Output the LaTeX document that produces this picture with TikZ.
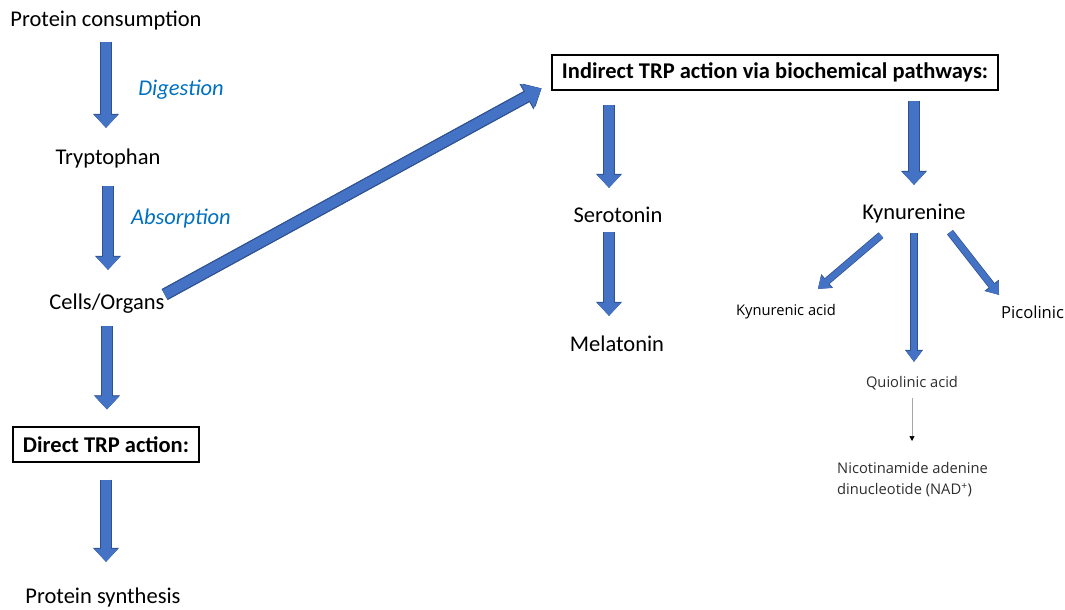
\documentclass[tikz,border=0pt]{standalone}
\usepackage{fontspec}
\setmainfont{Carlito}
\newfontfamily\chemfont{Open Sans}
\usepackage{xcolor}
\usepackage{tikz}
\usetikzlibrary{positioning, calc, arrows.meta}

\definecolor{arrowblue}{HTML}{4472C4}
\definecolor{arrowedge}{HTML}{2F528F}
\definecolor{stepblue}{HTML}{0070C0}
\definecolor{chemgray}{HTML}{2E2E2E}

\begin{document}
\begin{tikzpicture}[x=1pt,y=-1pt]
	\tikzstyle{txt}=[inner sep=0pt, anchor=base, font=\fontsize{22.5}{27}\selectfont, text height=16pt, text depth=5pt]
	\tikzstyle{note}=[txt, text=stepblue, font=\fontsize{22.5}{27}\selectfont\itshape]
	\tikzstyle{chem}=[inner sep=0pt, anchor=base, font=\chemfont\fontsize{14.7}{22}\selectfont, text height=11pt, text depth=3pt]
	\tikzstyle{stage}=[draw=black, line width=1.2pt, inner sep=0pt, minimum height=35pt, font=\fontsize{22.5}{27}\selectfont\bfseries]
	\tikzstyle{fatarrow}=[draw=arrowblue, line width=10pt, -{Triangle[length=13pt,width=24pt,line width=0.5pt]},
		preaction={draw=arrowedge, line width=12pt, -{Triangle[length=14pt,width=26pt,line width=0.5pt]}}]
	\tikzstyle{widearrow}=[fatarrow, -{Triangle[length=16pt,width=27pt,line width=0.5pt]},
		preaction={draw=arrowedge, line width=12.5pt, -{Triangle[length=17pt,width=29pt,line width=0.5pt]}}]
	\tikzstyle{branch}=[draw=arrowblue, line width=6pt, -{Triangle[length=11pt,width=16pt,line width=0.5pt]},
		preaction={draw=arrowedge, line width=7.5pt, -{Triangle[length=12pt,width=18pt,line width=0.5pt]}}]
	\tikzstyle{thinline}=[draw=gray!70, line width=0.7pt, -{Triangle[length=5pt,width=5pt,color=black]}]

	\useasboundingbox (0,0) rectangle (1065,610);
	\clip (0,0) rectangle (1065,610);

	% left column
	\node[txt](prot) at (106,27) {Protein consumption};
	\node[txt](tryp) at (108,164) {Tryptophan};
	\node[txt](cells) at (107,309) {Cells/Organs};
	\node[stage, minimum width=186pt](direct) at (106,444.5) {Direct TRP action:};
	\node[txt](synth) at (103,603) {Protein synthesis};
	\node[note](dig) at (181,95) {Digestion};
	\node[note](abs) at (181,224) {Absorption};

	% right part
	\node[stage, minimum width=446pt](indirect) at (775,72.5) {Indirect TRP action via biochemical pathways:};
	\node[txt](sero) at (618,222) {Serotonin};
	\node[txt](mela) at (617,351) {Melatonin};
	\node[txt](kyn) at (914,219) {Kynurenine};
	\node[chem](kacid) at (786,315) {Kynurenic acid};
	\node[chem, anchor=base west, font=\chemfont\fontsize{16.6}{22}\selectfont](pico) at (1001,318) {Picolinic};
	\node[chem, text=chemgray](quin) at (912,387) {Quiolinic acid};
	\node[inner sep=0pt, anchor=north west, align=left, text=chemgray,
		font=\chemfont\fontsize{14.7}{21.5}\selectfont](nad) at (837,462) {Nicotinamide adenine\\dinucleotide (NAD\textsuperscript{+})};

	\draw[fatarrow, shorten <=10pt, shorten >=20pt] (prot.south) -- (prot.south |- tryp.north);
	\draw[fatarrow, shorten <=17pt, shorten >=23pt] (tryp.south) -- (tryp.south |- cells.north);
	\draw[fatarrow, shorten <=12pt, shorten >=17pt] (cells.south) -- (cells.south |- direct.north);
	\draw[fatarrow, shorten <=17pt, shorten >=25pt] (direct.south) -- (direct.south |- synth.north);
	\draw[widearrow] ($(cells.east)+(0,-9)$) -- ($(indirect.west)+(-10,16)$);

	\draw[fatarrow, shorten <=14pt, shorten >=18pt] ($(sero.north |- indirect.south)+(-9,0)$) -- ($(sero.north)+(-9,0)$);
	\draw[fatarrow, shorten <=5pt, shorten >=19pt] ($(sero.south)+(-9,0)$) -- ($(sero.south |- mela.north)+(-9,0)$);
	\draw[fatarrow, shorten <=10pt, shorten >=18pt] (kyn.north |- indirect.south) -- (kyn.north);

	\draw[branch] ($(kyn.south)+(-33,11)$) -- ($(kacid.north)+(32,-15)$);
	\draw[branch, shorten <=9pt, shorten >=14pt] (kyn.south) -- (kyn.south |- quin.north);
	\draw[branch] ($(kyn.south)+(36,8)$) -- ($(pico.north west)+(-2,-12)$);
	\draw[thinline, shorten <=8pt, shorten >=21pt] (quin.south) -- (quin.south |- nad.north);
\end{tikzpicture}
\end{document}
